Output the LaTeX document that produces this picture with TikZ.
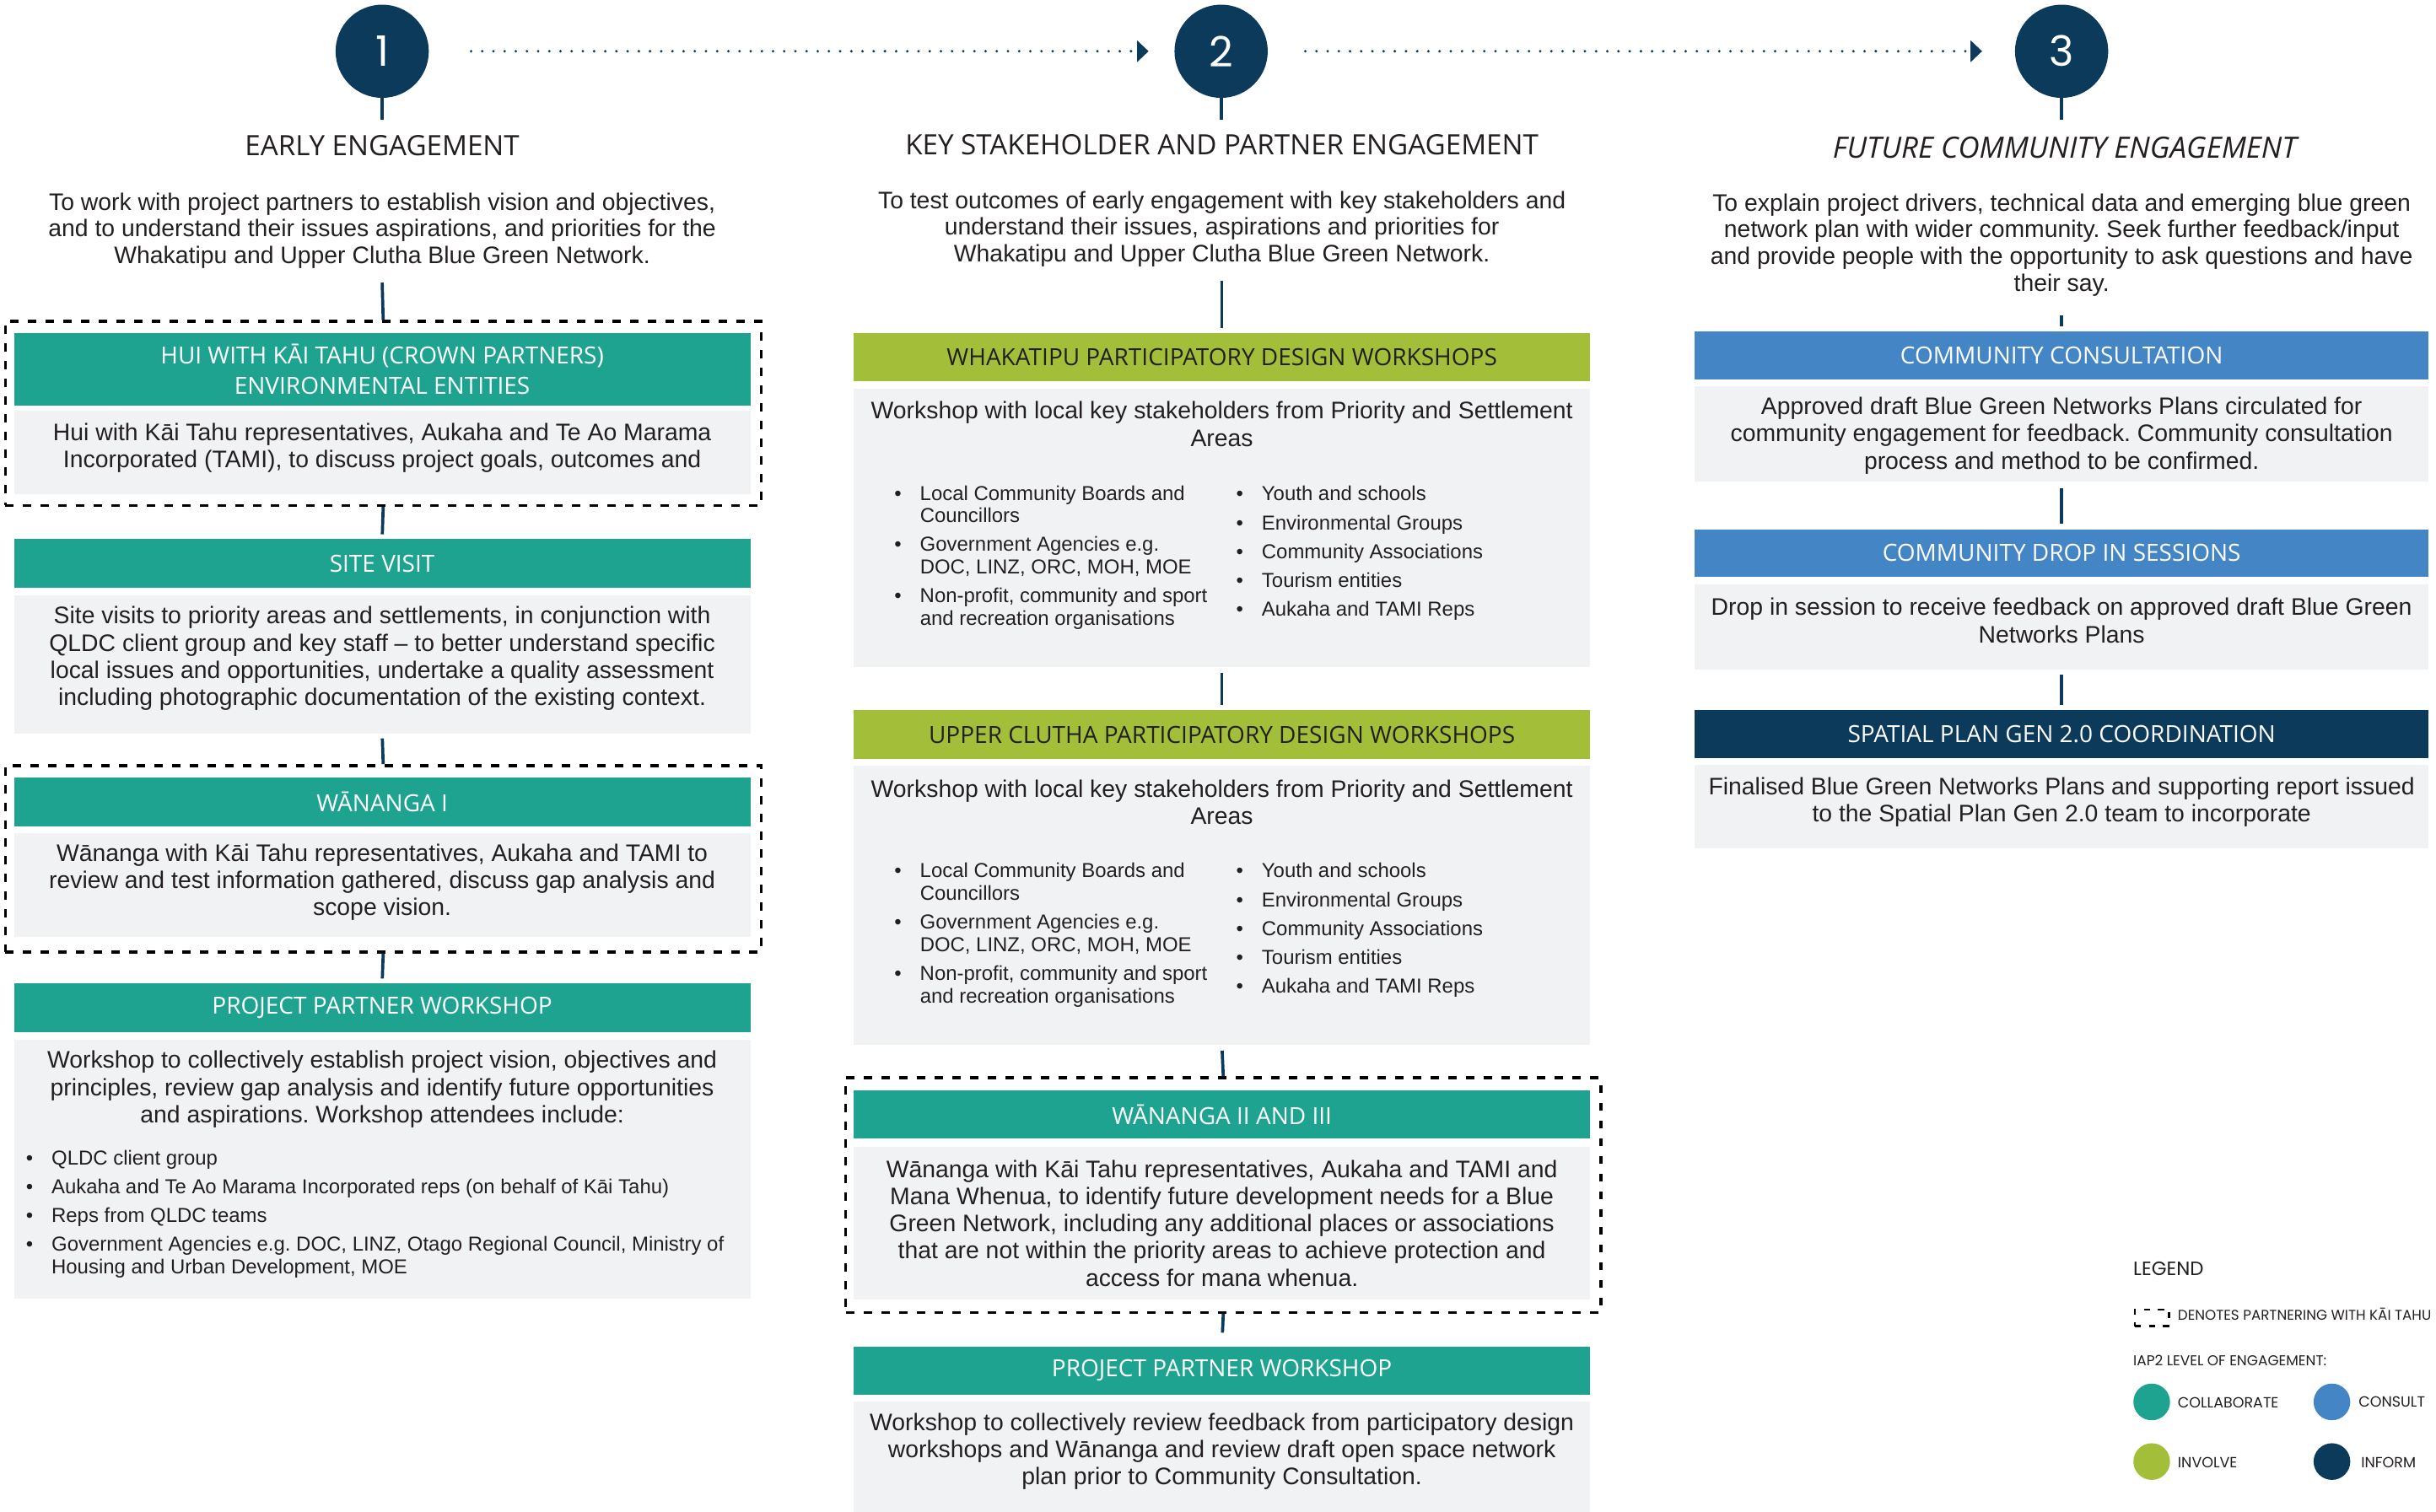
\documentclass[tikz,border=0pt]{standalone}
\usepackage{fontspec}
\setmainfont{Liberation Sans}
\newfontfamily\headfont{Open Sans}
\newfontfamily\legfont{Poppins}
\usetikzlibrary{arrows.meta}
\frenchspacing
\definecolor{cTeal}{HTML}{1EA391}
\definecolor{cGreen}{HTML}{A3BF3A}
\definecolor{cBlue}{HTML}{4385C5}
\definecolor{cNavy}{HTML}{0B3A5B}
\definecolor{cGray}{HTML}{F1F2F4}
\definecolor{cText}{HTML}{231F20}
\tikzset{
 hdr/.style={fill=#1, text=white, anchor=north, minimum width=474pt, inner sep=0pt, align=center, font=\headfont\fontsize{15.2}{19.5}\selectfont},
 bodybox/.style={fill=cGray, anchor=north, minimum width=474pt, inner sep=0pt},
 btxt/.style={text=cText, inner sep=0pt, align=center, font=\fontsize{15.4}{17.5}\selectfont},
 desc/.style={text=cText, inner sep=0pt, align=center, font=\fontsize{15.4}{17.2}\selectfont},
 ttl/.style={text=cText, inner sep=0pt, font=\headfont\fontsize{18}{20}\selectfont},
 stepcirc/.style={circle, fill=cNavy, minimum size=60pt, inner sep=0pt, text=white, font=\legfont\fontsize{27}{30}\selectfont},
 conn/.style={draw=cNavy, line width=2pt},
 dots/.style={draw=cNavy, line width=1.8pt, line cap=round, dash pattern=on 0pt off 7.2pt, -{Triangle[length=7.4pt,width=13.6pt]}},
 partner/.style={draw=black, line width=1.8pt, dash pattern=on 5.4pt off 6pt, anchor=north west, inner sep=0pt},
 bitem/.style={anchor=north west, inner sep=0pt, text=cText, font=\fontsize{13}{14.5}\selectfont},
 leg/.style={anchor=west, inner sep=0pt, text=cText, font=\legfont\fontsize{9.5}{11}\selectfont},
 legdot/.style={circle, fill=#1, minimum size=23.6pt, inner sep=0pt},
}
\newcommand\bitem[4]{\node[bitem] (#1) at (#2,#3-5.3) {\begin{tabular}{@{}l@{}l@{}}\makebox[16.5pt][l]{\textbullet} & #4\end{tabular}};}
\begin{document}
\begin{tikzpicture}[x=1pt,y=-1pt]
\useasboundingbox (0,0) rectangle (1568,973);
\fill[white] (0,0) rectangle (1568,973);

% step circles
\node[stepcirc] (n1) at (246,33) {1};
\node[stepcirc] (n2) at (786,33) {2};
\node[stepcirc] (n3) at (1327,33) {3};
\draw[dots, shorten <=27pt, shorten >=16.5pt] (n1) -- (n2);
\draw[dots, shorten <=24pt, shorten >=21pt] (n2) -- (n3);
\coordinate (e1) at (246,77);
\coordinate (e2) at (786,77);
\coordinate (e3) at (1327,77);
\draw[conn] (n1) -- (e1);
\draw[conn] (n2) -- (e2);
\draw[conn] (n3) -- (e3);

% titles
\node[ttl] (t1) at (246,94) {EARLY ENGAGEMENT};
\node[ttl] (t2) at (786.5,93) {KEY STAKEHOLDER AND PARTNER ENGAGEMENT};
\node[ttl, font=\headfont\itshape\fontsize{18.9}{20}\selectfont] (t3) at (1329,95) {FUTURE COMMUNITY ENGAGEMENT};

% descriptions
\node[desc] (p1) at (246,148.5) {To work with project partners to establish vision and objectives,\\and to understand their issues aspirations, and priorities for the\\Whakatipu and Upper Clutha Blue Green Network.};
\node[desc] (p2) at (786.5,147.5) {To test outcomes of early engagement with key stakeholders and\\understand their issues, aspirations and priorities for\\Whakatipu and Upper Clutha Blue Green Network.};
\node[desc] (p3) at (1327,157.7) {To explain project drivers, technical data and emerging blue green\\network plan with wider community. Seek further feedback/input\\and provide people with the opportunity to ask questions and have\\their say.};

% ---------- column 1 ----------
\node[partner, minimum width=486.5pt, minimum height=118.5pt] (d1) at (2.5,206) {};
\node[hdr=cTeal, minimum height=47pt] (h1) at (246,214) {HUI WITH KĀI TAHU (CROWN PARTNERS)\\ENVIRONMENTAL ENTITIES};
\node[bodybox, minimum height=54pt] (b1) at (246,264) {};
\node[btxt] (x1) at (246,288.5) {Hui with Kāi Tahu representatives, Aukaha and Te Ao Marama\\Incorporated (TAMI), to discuss project goals, outcomes and};

\node[hdr=cTeal, minimum height=31pt] (h2) at (246,347) {SITE VISIT};
\node[bodybox, minimum height=89pt] (b2) at (246,383) {};
\node[btxt] (x2) at (246,424) {Site visits to priority areas and settlements, in conjunction with\\QLDC client group and key staff – to better understand specific\\local issues and opportunities, undertake a quality assessment\\including photographic documentation of the existing context.};

\node[partner, minimum width=486.5pt, minimum height=120pt] (d2) at (2.5,492) {};
\node[hdr=cTeal, minimum height=31.5pt] (h3) at (246,500.5) {WĀNANGA I};
\node[bodybox, minimum height=67pt] (b3) at (246,536) {};
\node[btxt] (x3) at (246,568) {Wānanga with Kāi Tahu representatives, Aukaha and TAMI to\\review and test information gathered, discuss gap analysis and\\scope vision.};

\node[hdr=cTeal, minimum height=31.5pt] (h4) at (246,633) {PROJECT PARTNER WORKSHOP};
\node[bodybox, minimum height=167pt] (b4) at (246,669) {};
\node[btxt] (x4) at (246,701.3) {Workshop to collectively establish project vision, objectives and\\principles, review gap analysis and identify future opportunities\\and aspirations. Workshop attendees include:};
\bitem{i1}{16.5}{745}{QLDC client group}
\bitem{i2}{16.5}{763.5}{Aukaha and Te Ao Marama Incorporated reps (on behalf of Kāi Tahu)}
\bitem{i3}{16.5}{782}{Reps from QLDC teams}
\bitem{i4}{16.5}{800.5}{Government Agencies e.g. DOC, LINZ, Otago Regional Council, Ministry of\\ & Housing and Urban Development, MOE}

\coordinate (k1) at (246,182);
\draw[conn] (k1) -- (d1.north);
\draw[conn, shorten >=3pt] (d1.south) -- (h2.north);
\draw[conn, shorten <=3pt] (b2.south) -- (d2.north);
\draw[conn, shorten >=3pt] (d2.south) -- (h4.north);

% ---------- column 2 ----------
\node[hdr=cGreen, text=cText, minimum height=31pt] (h5) at (786.5,214) {WHAKATIPU PARTICIPATORY DESIGN WORKSHOPS};
\node[bodybox, minimum height=179pt] (b5) at (786.5,250) {};
\node[btxt] (x5) at (786.5,273) {Workshop with local key stakeholders from Priority and Settlement\\Areas};
\bitem{w1}{575.5}{317}{Local Community Boards and\\ & Councillors}
\bitem{w2}{575.5}{350}{Government Agencies e.g.\\ & DOC, LINZ, ORC, MOH, MOE}
\bitem{w3}{575.5}{383}{Non-profit, community and sport\\ & and recreation organisations}
\bitem{w4}{795.5}{317}{Youth and schools}
\bitem{w5}{795.5}{336}{Environmental Groups}
\bitem{w6}{795.5}{354.5}{Community Associations}
\bitem{w7}{795.5}{373}{Tourism entities}
\bitem{w8}{795.5}{391.5}{Aukaha and TAMI Reps}

\node[hdr=cGreen, text=cText, minimum height=31.6pt] (h6) at (786.5,457) {UPPER CLUTHA PARTICIPATORY DESIGN WORKSHOPS};
\node[bodybox, minimum height=179.6pt] (b6) at (786.5,493) {};
\node[btxt] (x6) at (786.5,516.7) {Workshop with local key stakeholders from Priority and Settlement\\Areas};
\bitem{u1}{575.5}{560}{Local Community Boards and\\ & Councillors}
\bitem{u2}{575.5}{593}{Government Agencies e.g.\\ & DOC, LINZ, ORC, MOH, MOE}
\bitem{u3}{575.5}{626}{Non-profit, community and sport\\ & and recreation organisations}
\bitem{u4}{795.5}{560}{Youth and schools}
\bitem{u5}{795.5}{579}{Environmental Groups}
\bitem{u6}{795.5}{597.5}{Community Associations}
\bitem{u7}{795.5}{616}{Tourism entities}
\bitem{u8}{795.5}{634.5}{Aukaha and TAMI Reps}

\node[partner, minimum width=486pt, minimum height=151pt] (d3) at (543.5,693) {};
\node[hdr=cTeal, minimum height=31pt] (h7) at (786.5,702) {WĀNANGA II AND III};
\node[bodybox, minimum height=98.6pt] (b7) at (786.5,738) {};
\node[btxt] (x7) at (786.5,787.5) {Wānanga with Kāi Tahu representatives, Aukaha and TAMI and\\Mana Whenua, to identify future development needs for a Blue\\Green Network, including any additional places or associations\\that are not within the priority areas to achieve protection and\\access for mana whenua.};

\node[hdr=cTeal, minimum height=31.4pt] (h8) at (786.5,866.6) {PROJECT PARTNER WORKSHOP};
\node[bodybox, minimum height=75pt] (b8) at (786.5,902) {};
\node[btxt] (x8) at (786.5,934.5) {Workshop to collectively review feedback from participatory design\\workshops and Wānanga and review draft open space network\\plan prior to Community Consultation.};

\coordinate (k2) at (786.5,181);
\draw[conn, shorten >=3pt] (k2) -- (h5.north);
\draw[conn, shorten <=4pt, shorten >=3pt] (b5.south) -- (h6.north);
\draw[conn, shorten <=3.4pt] (b6.south) -- (d3.north);
\draw[conn, shorten >=8.6pt] (d3.south) -- (h8.north);

% ---------- column 3 ----------
\node[hdr=cBlue, minimum width=472.5pt, minimum height=31pt] (h9) at (1327,213) {COMMUNITY CONSULTATION};
\node[bodybox, minimum width=472.5pt, minimum height=61.3pt] (b9) at (1327,248.7) {};
\node[btxt] (x9) at (1327,280.5) {Approved draft Blue Green Networks Plans circulated for\\community engagement for feedback. Community consultation\\process and method to be confirmed.};

\node[hdr=cBlue, minimum width=472.5pt, minimum height=30.7pt] (h10) at (1327,340.6) {COMMUNITY DROP IN SESSIONS};
\node[bodybox, minimum width=472.5pt, minimum height=55pt] (b10) at (1327,376) {};
\node[btxt] (x10) at (1327,399.5) {Drop in session to receive feedback on approved draft Blue Green\\Networks Plans};

\node[hdr=cNavy, minimum width=472.5pt, minimum height=30.7pt] (h11) at (1327,457) {SPATIAL PLAN GEN 2.0 COORDINATION};
\node[bodybox, minimum width=472.5pt, minimum height=53.5pt] (b11) at (1327,492.5) {};
\node[btxt] (x11) at (1327,516.5) {Finalised Blue Green Networks Plans and supporting report issued\\to the Spatial Plan Gen 2.0 team to incorporate};

\coordinate (k3) at (1327,203);
\draw[conn, shorten >=3pt] (k3) -- (h9.north);
\draw[conn, shorten <=3.7pt, shorten >=3.6pt] (b9.south) -- (h10.north);
\draw[conn, shorten <=3pt, shorten >=3.3pt] (b10.south) -- (h11.north);

% ---------- legend ----------
\node[leg, font=\legfont\fontsize{12.4}{14}\selectfont] (lg) at (1373,817) {LEGEND};
\node[draw=black, line width=1.3pt, dash pattern=on 4pt off 5pt, minimum width=22pt, minimum height=10.8pt, inner sep=0pt, anchor=north west] (ld) at (1373.5,842.4) {};
\node[leg, font=\legfont\fontsize{9.1}{11}\selectfont] (ldt) at (1401.6,846) {DENOTES PARTNERING WITH KĀI TAHU};
\node[leg, font=\legfont\fontsize{9.2}{11}\selectfont] (lia) at (1373,876) {IAP2 LEVEL OF ENGAGEMENT:};
\node[legdot=cTeal] (c1) at (1385,902.6) {};
\node[leg] (c1t) at (1401.6,903) {COLLABORATE};
\node[legdot=cBlue] (c2) at (1501,902.6) {};
\node[leg] (c2t) at (1518,902.3) {CONSULT};
\node[legdot=cGreen] (c3) at (1385,941) {};
\node[leg] (c3t) at (1401.6,941.5) {INVOLVE};
\node[legdot=cNavy] (c4) at (1501,941) {};
\node[leg] (c4t) at (1519.6,941.5) {INFORM};
\end{tikzpicture}
\end{document}
